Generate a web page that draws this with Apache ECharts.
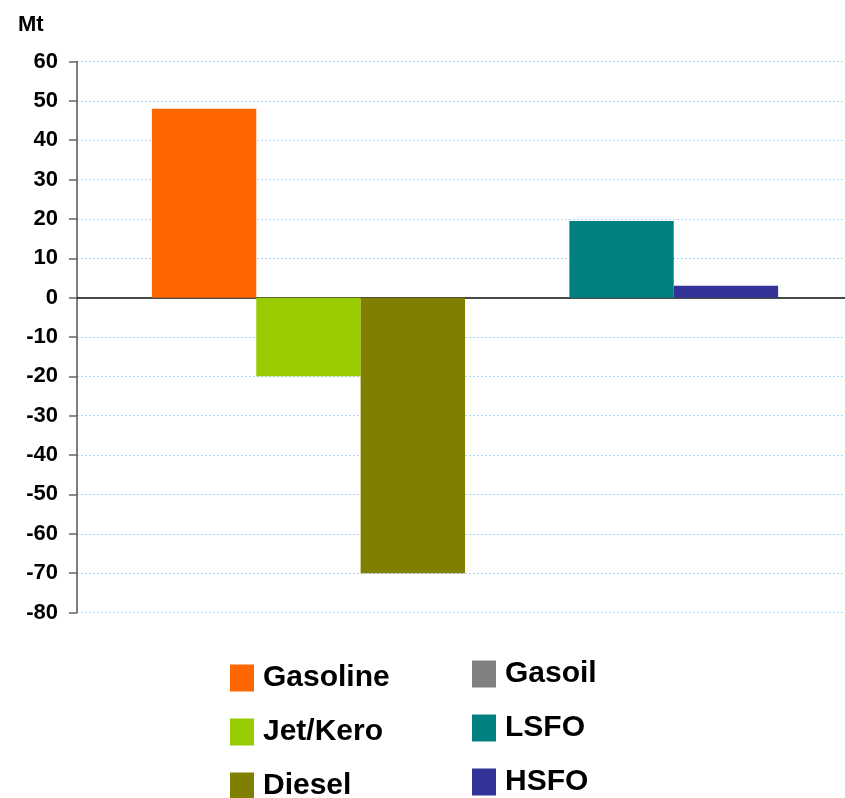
<!DOCTYPE html>
<html>
<head>
<meta charset="utf-8">
<title>Product balance change (Mt)</title>
<script src="https://cdn.jsdelivr.net/npm/echarts@6/dist/echarts.min.js"></script>
<style>
  html, body { margin: 0; padding: 0; background: #ffffff; }
  #chart { width: 845px; height: 798px; }
</style>
</head>
<body>
<div id="chart"></div>
<script>
// Product names, one bar each
const products = ['Gasoline', 'Jet/Kero', 'Diesel', 'Gasoil', 'LSFO', 'HSFO'];
// Change in volume, Mt
const values = [48, -20, -70, 0, 19.5, 3];
// Fill colour per product
const colors = ['#FF6600', '#99CC00', '#808000', '#808080', '#008080', '#333399'];
// Value axis settings
const yMin = -80;
const yMax = 60;
const yStep = 10;

const FONT = 'Liberation Sans, Arial, sans-serif';

const series = products.map((name, i) => ({
  name: name,
  type: 'bar',
  data: [values[i]],
  itemStyle: { color: colors[i] },
  barGap: '0%',
  barCategoryGap: '19.3%',
  emphasis: { disabled: true }
}));

const legendText = {
  fontFamily: FONT,
  fontWeight: 'bold',
  fontSize: 30,
  color: '#000',
  lineHeight: 27,
  padding: [0, 0, 0, 4]
};

const legendBase = {
  orient: 'vertical',
  height: 200,
  icon: 'rect',
  itemWidth: 24,
  itemHeight: 27,
  itemGap: 24,
  padding: 0,
  selectedMode: false,
  textStyle: legendText
};

const chart = echarts.init(document.getElementById('chart'), null, { renderer: 'canvas' });
chart.setOption({
  animation: false,
  backgroundColor: '#ffffff',
  title: {
    text: 'Mt',
    left: 13,
    top: 9,
    textStyle: { fontFamily: FONT, fontWeight: 'bold', fontSize: 22, color: '#000' }
  },
  // plot runs a little past the right edge so the bar group sits right of centre
  grid: {
    left: 77, right: -8, top: 61.5, bottom: 185.5,
    containLabel: false,
    outerBoundsMode: 'none'
  },
  legend: [
    Object.assign({}, legendBase, { data: products.slice(0, 3), left: 230, top: 663 }),
    Object.assign({}, legendBase, { data: products.slice(3), left: 472, top: 659 })
  ],
  xAxis: {
    type: 'category',
    data: [''],
    axisLine: { show: true, onZero: true, lineStyle: { color: '#111', width: 1.5 } },
    axisTick: { show: false },
    axisLabel: { show: false },
    splitLine: { show: false }
  },
  yAxis: {
    type: 'value',
    min: yMin,
    max: yMax,
    interval: yStep,
    axisLine: { show: true, lineStyle: { color: '#555', width: 1.5 } },
    axisTick: { show: true, length: 8, lineStyle: { color: '#666', width: 1.5 } },
    axisLabel: {
      margin: 19,
      fontFamily: FONT,
      fontWeight: 'bold',
      fontSize: 22,
      color: '#000'
    },
    splitLine: {
      show: true,
      lineStyle: { color: '#a8d3ff', width: 1, type: [2, 2] }
    }
  },
  series: series
});
</script>
</body>
</html>
